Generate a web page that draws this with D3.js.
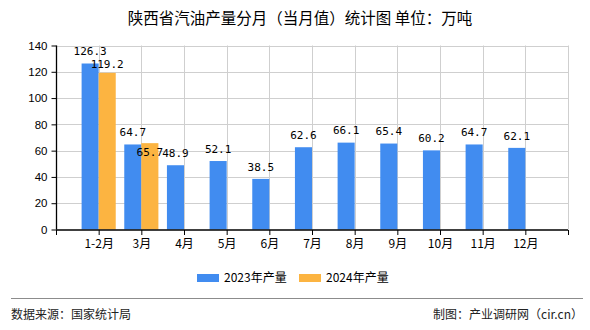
<!DOCTYPE html>
<html><head><meta charset="utf-8">
<script src="https://cdn.jsdelivr.net/npm/d3@7"></script>
<style>
html,body{margin:0;padding:0;background:#fff;}
svg{display:block;}
text{font-family:"Noto Sans CJK SC","Noto Sans",sans-serif;}
</style></head>
<body>
<script>
const title = "陕西省汽油产量分月（当月值）统计图 单位：万吨";
const categories = ["1-2月","3月","4月","5月","6月","7月","8月","9月","10月","11月","12月"];
const values2023 = [126.3,64.7,48.9,52.1,38.5,62.6,66.1,65.4,60.2,64.7,62.1];
const values2024 = [119.2,65.7,null,null,null,null,null,null,null,null,null];
const seriesNames = ["2023年产量","2024年产量"];
const colors = ["#418CF0","#FCB441"];
const yTicks = [0,20,40,60,80,100,120,140];
const sourceText = "数据来源：国家统计局";
const creditText = "制图：产业调研网（cir.cn）";

(function(){
const W = 590, H = 330;
const svg = d3.select("body").append("svg").attr("width", W).attr("height", H);

const pl = 56, pr = 568, pt = 45.5, pb = 229.5;
const x = d3.scaleLinear().domain([0, categories.length + 1]).range([pl, pr]);
const y = d3.scaleLinear().domain([0, 140]).range([pb, pt]);
const slot = x(1) - x(0);
const bw = slot * 0.4;

// title
svg.append("text").attr("x", 300).attr("y", 24).attr("text-anchor", "middle")
  .attr("font-size", 15.5).attr("fill", "#000").text(title);

// grid
const g = svg.append("g");
g.selectAll("line.hg").data(yTicks.filter(d => d > 0)).join("line")
  .attr("x1", pl).attr("x2", pr).attr("y1", d => Math.round(y(d)) + 0.5).attr("y2", d => Math.round(y(d)) + 0.5)
  .attr("stroke", "#cfcfcf").attr("stroke-width", 1);
const vIdx = d3.range(1, categories.length + 2);
g.selectAll("line.vg").data(vIdx).join("line")
  .attr("y1", pt).attr("y2", pb).attr("x1", d => Math.round(x(d)) + 0.5).attr("x2", d => Math.round(x(d)) + 0.5)
  .attr("stroke", "#cfcfcf").attr("stroke-width", 1);

// bars
categories.forEach((c, i) => {
  const cx = x(i + 1);
  if (values2023[i] != null) {
    svg.append("rect").attr("x", cx - bw).attr("width", bw)
      .attr("y", y(values2023[i])).attr("height", y(0) - y(values2023[i])).attr("fill", colors[0]);
  }
  if (values2024[i] != null) {
    svg.append("rect").attr("x", cx).attr("width", bw)
      .attr("y", y(values2024[i])).attr("height", y(0) - y(values2024[i])).attr("fill", colors[1]);
  }
});

// axes
const yAxis = d3.axisLeft(y).tickValues(yTicks).tickSize(5).tickPadding(4).tickFormat(d3.format("d"));
const ya = svg.append("g").attr("transform", `translate(${pl + 0.5},0)`).call(yAxis);
ya.select(".domain").attr("stroke", "#000").attr("stroke-width", 1.3).attr("d", `M0,${pt}V${pb}`);
ya.selectAll(".tick line").attr("stroke", "#000");
ya.selectAll(".tick text").attr("font-size", 11.5).attr("fill", "#000")
  .style("font-family", "'Liberation Sans', Arial, sans-serif");

const xAxis = d3.axisBottom(x).tickValues(d3.range(0, categories.length + 2)).tickSize(5).tickPadding(4)
  .tickFormat(d => (d >= 1 && d <= categories.length) ? categories[d - 1] : "");
const xa = svg.append("g").attr("transform", `translate(0,${pb + 0.5})`).call(xAxis);
xa.select(".domain").attr("stroke", "#000").attr("stroke-width", 1.5).attr("d", `M${pl},0H${pr}`);
xa.selectAll(".tick line").attr("stroke", "#000");
xa.selectAll(".tick text").attr("font-size", 12).attr("fill", "#000");

// value labels (simple overlap avoidance against the same category's first label)
const labels = [];
categories.forEach((c, i) => {
  const a = values2023[i] != null ? {x: x(i + 1) - bw / 2, cy: y(values2023[i]) - 12, t: values2023[i].toFixed(1)} : null;
  if (a) labels.push(a);
  if (values2024[i] != null) {
    const lab = {x: x(i + 1) + bw / 2, cy: y(values2024[i]) - 12, t: values2024[i].toFixed(1)};
    if (a && Math.abs(a.cy - lab.cy) < 12) {
      lab.cy = (lab.cy >= a.cy) ? a.cy + 13 : a.cy + 20;
    }
    labels.push(lab);
  }
});
svg.selectAll("text.vl").data(labels).join("text").attr("class", "vl")
  .attr("x", d => d.x).attr("y", d => d.cy).attr("dy", "0.35em").attr("text-anchor", "middle")
  .attr("font-size", 11).attr("fill", "#000")
  .style("font-family", "'DejaVu Sans Mono','Liberation Mono',monospace")
  .text(d => d.t);

// legend
const legX = [197, 299];
seriesNames.forEach((n, i) => {
  svg.append("rect").attr("x", legX[i]).attr("y", 274).attr("width", 22).attr("height", 8).attr("fill", colors[i]);
  svg.append("text").attr("x", legX[i] + 27).attr("y", 278).attr("dy", "0.35em")
    .attr("font-size", 12).attr("fill", "#000").text(n);
});

// footer
svg.append("line").attr("x1", 11).attr("x2", 583).attr("y1", 298.5).attr("y2", 298.5)
  .attr("stroke", "#8c8c8c").attr("stroke-width", 1);
svg.append("text").attr("x", 11).attr("y", 315).attr("dy", "0.35em").attr("font-size", 12)
  .attr("fill", "#222").text(sourceText);
svg.append("text").attr("x", 583).attr("y", 315).attr("dy", "0.35em").attr("text-anchor", "end")
  .attr("font-size", 12).attr("fill", "#222").text(creditText);
})();
</script>
</body></html>
